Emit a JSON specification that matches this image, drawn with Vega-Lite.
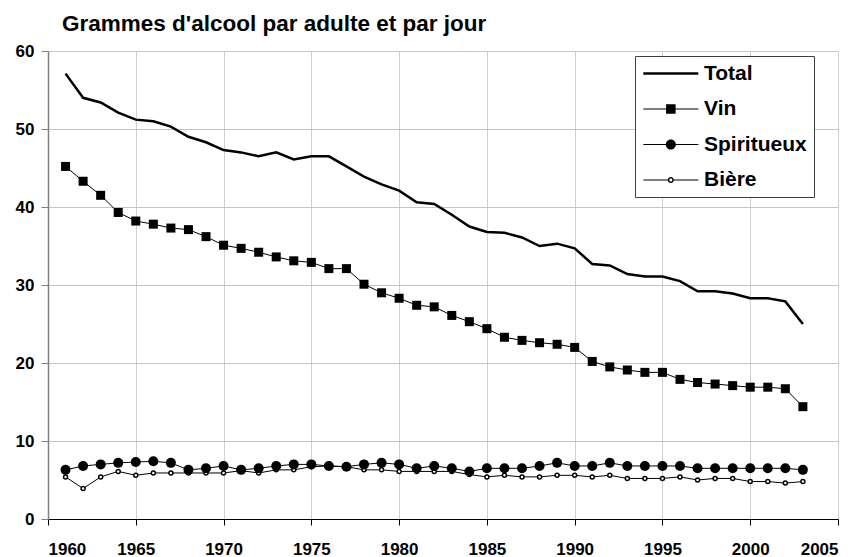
{
"$schema": "https://vega.github.io/schema/vega-lite/v6.json",
"width": 790, "height": 468,
"autosize": {"type": "none"},
"padding": {"left": 48, "top": 51, "right": 23, "bottom": 38},
"background": "white",
"title": {"text": "Grammes d'alcool par adulte et par jour", "anchor": "start", "frame": "group", "dx": 14, "offset": 7, "font": "Liberation Sans", "fontSize": 22.5, "fontWeight": "bold", "color": "black"},
"config": {
  "view": {"stroke": null},
  "axis": {"labelFont": "Liberation Sans", "labelFontWeight": "bold", "labelFontSize": 17, "labelColor": "black", "title": null, "grid": true, "gridColor": "#c8c8c8", "gridWidth": 1},
  "legend": {"labelFont": "Liberation Sans", "labelFontWeight": "bold", "labelFontSize": 21, "labelColor": "black"}
},
"data": {"values": [
{"year":1961,"series":"Total","value":57.1},{"year":1961,"series":"Vin","value":45.2},{"year":1961,"series":"Spiritueux","value":6.3},{"year":1961,"series":"Bière","value":5.4},
{"year":1962,"series":"Total","value":54.0},{"year":1962,"series":"Vin","value":43.3},{"year":1962,"series":"Spiritueux","value":6.8},{"year":1962,"series":"Bière","value":3.9},
{"year":1963,"series":"Total","value":53.4},{"year":1963,"series":"Vin","value":41.5},{"year":1963,"series":"Spiritueux","value":7.0},{"year":1963,"series":"Bière","value":5.4},
{"year":1964,"series":"Total","value":52.1},{"year":1964,"series":"Vin","value":39.3},{"year":1964,"series":"Spiritueux","value":7.2},{"year":1964,"series":"Bière","value":6.1},
{"year":1965,"series":"Total","value":51.2},{"year":1965,"series":"Vin","value":38.2},{"year":1965,"series":"Spiritueux","value":7.3},{"year":1965,"series":"Bière","value":5.6},
{"year":1966,"series":"Total","value":51.0},{"year":1966,"series":"Vin","value":37.8},{"year":1966,"series":"Spiritueux","value":7.4},{"year":1966,"series":"Bière","value":5.9},
{"year":1967,"series":"Total","value":50.3},{"year":1967,"series":"Vin","value":37.3},{"year":1967,"series":"Spiritueux","value":7.2},{"year":1967,"series":"Bière","value":5.9},
{"year":1968,"series":"Total","value":49.0},{"year":1968,"series":"Vin","value":37.1},{"year":1968,"series":"Spiritueux","value":6.3},{"year":1968,"series":"Bière","value":5.9},
{"year":1969,"series":"Total","value":48.3},{"year":1969,"series":"Vin","value":36.2},{"year":1969,"series":"Spiritueux","value":6.5},{"year":1969,"series":"Bière","value":5.9},
{"year":1970,"series":"Total","value":47.3},{"year":1970,"series":"Vin","value":35.1},{"year":1970,"series":"Spiritueux","value":6.8},{"year":1970,"series":"Bière","value":5.9},
{"year":1971,"series":"Total","value":47.0},{"year":1971,"series":"Vin","value":34.7},{"year":1971,"series":"Spiritueux","value":6.3},{"year":1971,"series":"Bière","value":6.2},
{"year":1972,"series":"Total","value":46.5},{"year":1972,"series":"Vin","value":34.2},{"year":1972,"series":"Spiritueux","value":6.5},{"year":1972,"series":"Bière","value":5.9},
{"year":1973,"series":"Total","value":47.0},{"year":1973,"series":"Vin","value":33.6},{"year":1973,"series":"Spiritueux","value":6.8},{"year":1973,"series":"Bière","value":6.3},
{"year":1974,"series":"Total","value":46.1},{"year":1974,"series":"Vin","value":33.1},{"year":1974,"series":"Spiritueux","value":7.0},{"year":1974,"series":"Bière","value":6.3},
{"year":1975,"series":"Total","value":46.5},{"year":1975,"series":"Vin","value":32.9},{"year":1975,"series":"Spiritueux","value":7.0},{"year":1975,"series":"Bière","value":6.7},
{"year":1976,"series":"Total","value":46.5},{"year":1976,"series":"Vin","value":32.1},{"year":1976,"series":"Spiritueux","value":6.8},{"year":1976,"series":"Bière","value":6.8},
{"year":1977,"series":"Total","value":45.2},{"year":1977,"series":"Vin","value":32.1},{"year":1977,"series":"Spiritueux","value":6.7},{"year":1977,"series":"Bière","value":6.7},
{"year":1978,"series":"Total","value":43.9},{"year":1978,"series":"Vin","value":30.1},{"year":1978,"series":"Spiritueux","value":7.0},{"year":1978,"series":"Bière","value":6.3},
{"year":1979,"series":"Total","value":42.9},{"year":1979,"series":"Vin","value":29.0},{"year":1979,"series":"Spiritueux","value":7.2},{"year":1979,"series":"Bière","value":6.3},
{"year":1980,"series":"Total","value":42.1},{"year":1980,"series":"Vin","value":28.3},{"year":1980,"series":"Spiritueux","value":7.0},{"year":1980,"series":"Bière","value":6.1},
{"year":1981,"series":"Total","value":40.6},{"year":1981,"series":"Vin","value":27.4},{"year":1981,"series":"Spiritueux","value":6.5},{"year":1981,"series":"Bière","value":6.1},
{"year":1982,"series":"Total","value":40.4},{"year":1982,"series":"Vin","value":27.2},{"year":1982,"series":"Spiritueux","value":6.8},{"year":1982,"series":"Bière","value":6.1},
{"year":1983,"series":"Total","value":39.0},{"year":1983,"series":"Vin","value":26.1},{"year":1983,"series":"Spiritueux","value":6.5},{"year":1983,"series":"Bière","value":6.1},
{"year":1984,"series":"Total","value":37.5},{"year":1984,"series":"Vin","value":25.3},{"year":1984,"series":"Spiritueux","value":6.1},{"year":1984,"series":"Bière","value":5.7},
{"year":1985,"series":"Total","value":36.8},{"year":1985,"series":"Vin","value":24.4},{"year":1985,"series":"Spiritueux","value":6.5},{"year":1985,"series":"Bière","value":5.4},
{"year":1986,"series":"Total","value":36.7},{"year":1986,"series":"Vin","value":23.3},{"year":1986,"series":"Spiritueux","value":6.5},{"year":1986,"series":"Bière","value":5.6},
{"year":1987,"series":"Total","value":36.1},{"year":1987,"series":"Vin","value":22.9},{"year":1987,"series":"Spiritueux","value":6.5},{"year":1987,"series":"Bière","value":5.4},
{"year":1988,"series":"Total","value":35.0},{"year":1988,"series":"Vin","value":22.6},{"year":1988,"series":"Spiritueux","value":6.8},{"year":1988,"series":"Bière","value":5.4},
{"year":1989,"series":"Total","value":35.3},{"year":1989,"series":"Vin","value":22.4},{"year":1989,"series":"Spiritueux","value":7.2},{"year":1989,"series":"Bière","value":5.6},
{"year":1990,"series":"Total","value":34.7},{"year":1990,"series":"Vin","value":22.0},{"year":1990,"series":"Spiritueux","value":6.8},{"year":1990,"series":"Bière","value":5.6},
{"year":1991,"series":"Total","value":32.7},{"year":1991,"series":"Vin","value":20.2},{"year":1991,"series":"Spiritueux","value":6.8},{"year":1991,"series":"Bière","value":5.4},
{"year":1992,"series":"Total","value":32.5},{"year":1992,"series":"Vin","value":19.5},{"year":1992,"series":"Spiritueux","value":7.2},{"year":1992,"series":"Bière","value":5.6},
{"year":1993,"series":"Total","value":31.4},{"year":1993,"series":"Vin","value":19.1},{"year":1993,"series":"Spiritueux","value":6.8},{"year":1993,"series":"Bière","value":5.2},
{"year":1994,"series":"Total","value":31.1},{"year":1994,"series":"Vin","value":18.8},{"year":1994,"series":"Spiritueux","value":6.8},{"year":1994,"series":"Bière","value":5.2},
{"year":1995,"series":"Total","value":31.1},{"year":1995,"series":"Vin","value":18.8},{"year":1995,"series":"Spiritueux","value":6.8},{"year":1995,"series":"Bière","value":5.2},
{"year":1996,"series":"Total","value":30.5},{"year":1996,"series":"Vin","value":17.9},{"year":1996,"series":"Spiritueux","value":6.8},{"year":1996,"series":"Bière","value":5.4},
{"year":1997,"series":"Total","value":29.2},{"year":1997,"series":"Vin","value":17.5},{"year":1997,"series":"Spiritueux","value":6.5},{"year":1997,"series":"Bière","value":5.0},
{"year":1998,"series":"Total","value":29.2},{"year":1998,"series":"Vin","value":17.3},{"year":1998,"series":"Spiritueux","value":6.5},{"year":1998,"series":"Bière","value":5.2},
{"year":1999,"series":"Total","value":28.9},{"year":1999,"series":"Vin","value":17.1},{"year":1999,"series":"Spiritueux","value":6.5},{"year":1999,"series":"Bière","value":5.2},
{"year":2000,"series":"Total","value":28.3},{"year":2000,"series":"Vin","value":16.9},{"year":2000,"series":"Spiritueux","value":6.5},{"year":2000,"series":"Bière","value":4.8},
{"year":2001,"series":"Total","value":28.3},{"year":2001,"series":"Vin","value":16.9},{"year":2001,"series":"Spiritueux","value":6.5},{"year":2001,"series":"Bière","value":4.8},
{"year":2002,"series":"Total","value":27.9},{"year":2002,"series":"Vin","value":16.7},{"year":2002,"series":"Spiritueux","value":6.5},{"year":2002,"series":"Bière","value":4.6},
{"year":2003,"series":"Total","value":25.0},{"year":2003,"series":"Vin","value":14.4},{"year":2003,"series":"Spiritueux","value":6.3},{"year":2003,"series":"Bière","value":4.8}
]},
"encoding": {
  "x": {"field": "year", "type": "quantitative", "scale": {"domain": [1960, 2005], "nice": false, "zero": false},
        "axis": {"values": [1960,1965,1970,1975,1980,1985,1990,1995,2000,2005], "format": "d", "domainColor": "black", "domainWidth": 1, "tickColor": "black", "tickSize": 6, "labelPadding": 16, "gridColor": "#d0d0d0"}},
  "y": {"field": "value", "type": "quantitative", "scale": {"domain": [0, 60], "nice": false},
        "axis": {"values": [0,10,20,30,40,50,60], "domainColor": "#808080", "domainWidth": 1.5, "tickColor": "#808080", "tickSize": 7, "labelPadding": 7, "gridColor": "#c4c4c4"}}
},
"layer": [
  {"transform": [{"filter": "datum.series == 'Bière'"}], "mark": {"type": "line", "color": "black", "strokeWidth": 1}},
  {"transform": [{"filter": "datum.series == 'Bière'"}], "mark": {"type": "point", "shape": "circle", "size": 16, "fill": "white", "stroke": "black", "strokeWidth": 1.5, "opacity": 1}},
  {"transform": [{"filter": "datum.series == 'Spiritueux'"}], "mark": {"type": "line", "color": "black", "strokeWidth": 1}},
  {"transform": [{"filter": "datum.series == 'Spiritueux'"}], "mark": {"type": "point", "shape": "circle", "size": 100, "filled": true, "color": "black", "opacity": 1}},
  {"transform": [{"filter": "datum.series == 'Vin'"}], "mark": {"type": "line", "color": "black", "strokeWidth": 1}},
  {"transform": [{"filter": "datum.series == 'Vin'"}], "mark": {"type": "point", "shape": "square", "size": 81, "filled": true, "color": "black", "opacity": 1}},
  {"transform": [{"filter": "datum.series == 'Total'"}], "mark": {"type": "line", "color": "black", "strokeWidth": 2.5}},
  {"transform": [{"filter": "false"}],
   "mark": {"type": "point", "filled": true, "color": "black", "opacity": 1},
   "encoding": {
     "shape": {"field": "series", "type": "nominal",
       "scale": {"domain": ["Total", "Vin", "Spiritueux", "Bière"],
                 "range": [
                   "M-1,-0.14H5V0.14H-1Z",
                   "M-1,-0.055H5V0.055H-1Z M1.48,-0.52H2.52V0.52H1.48Z",
                   "M-1,-0.055H5V0.055H-1Z M1.45,0A0.55,0.55 0 1,1 2.55,0A0.55,0.55 0 1,1 1.45,0Z",
                   "M-1,-0.055H1.67V0.055H-1Z M2.33,-0.055H5V0.055H2.33Z M1.67,0A0.33,0.33 0 1,1 2.33,0A0.33,0.33 0 1,1 1.67,0Z M1.83,0A0.17,0.17 0 1,0 2.17,0A0.17,0.17 0 1,0 1.83,0Z"
                 ]},
       "legend": {"title": null, "orient": "none", "legendX": 587, "legendY": 5, "symbolSize": 336, "symbolFillColor": "black", "symbolStrokeWidth": 0, "symbolOpacity": 1, "labelOffset": 41, "rowPadding": 13.5, "padding": 7, "strokeColor": "#404040", "fillColor": "white"}}
   }}
]
}
